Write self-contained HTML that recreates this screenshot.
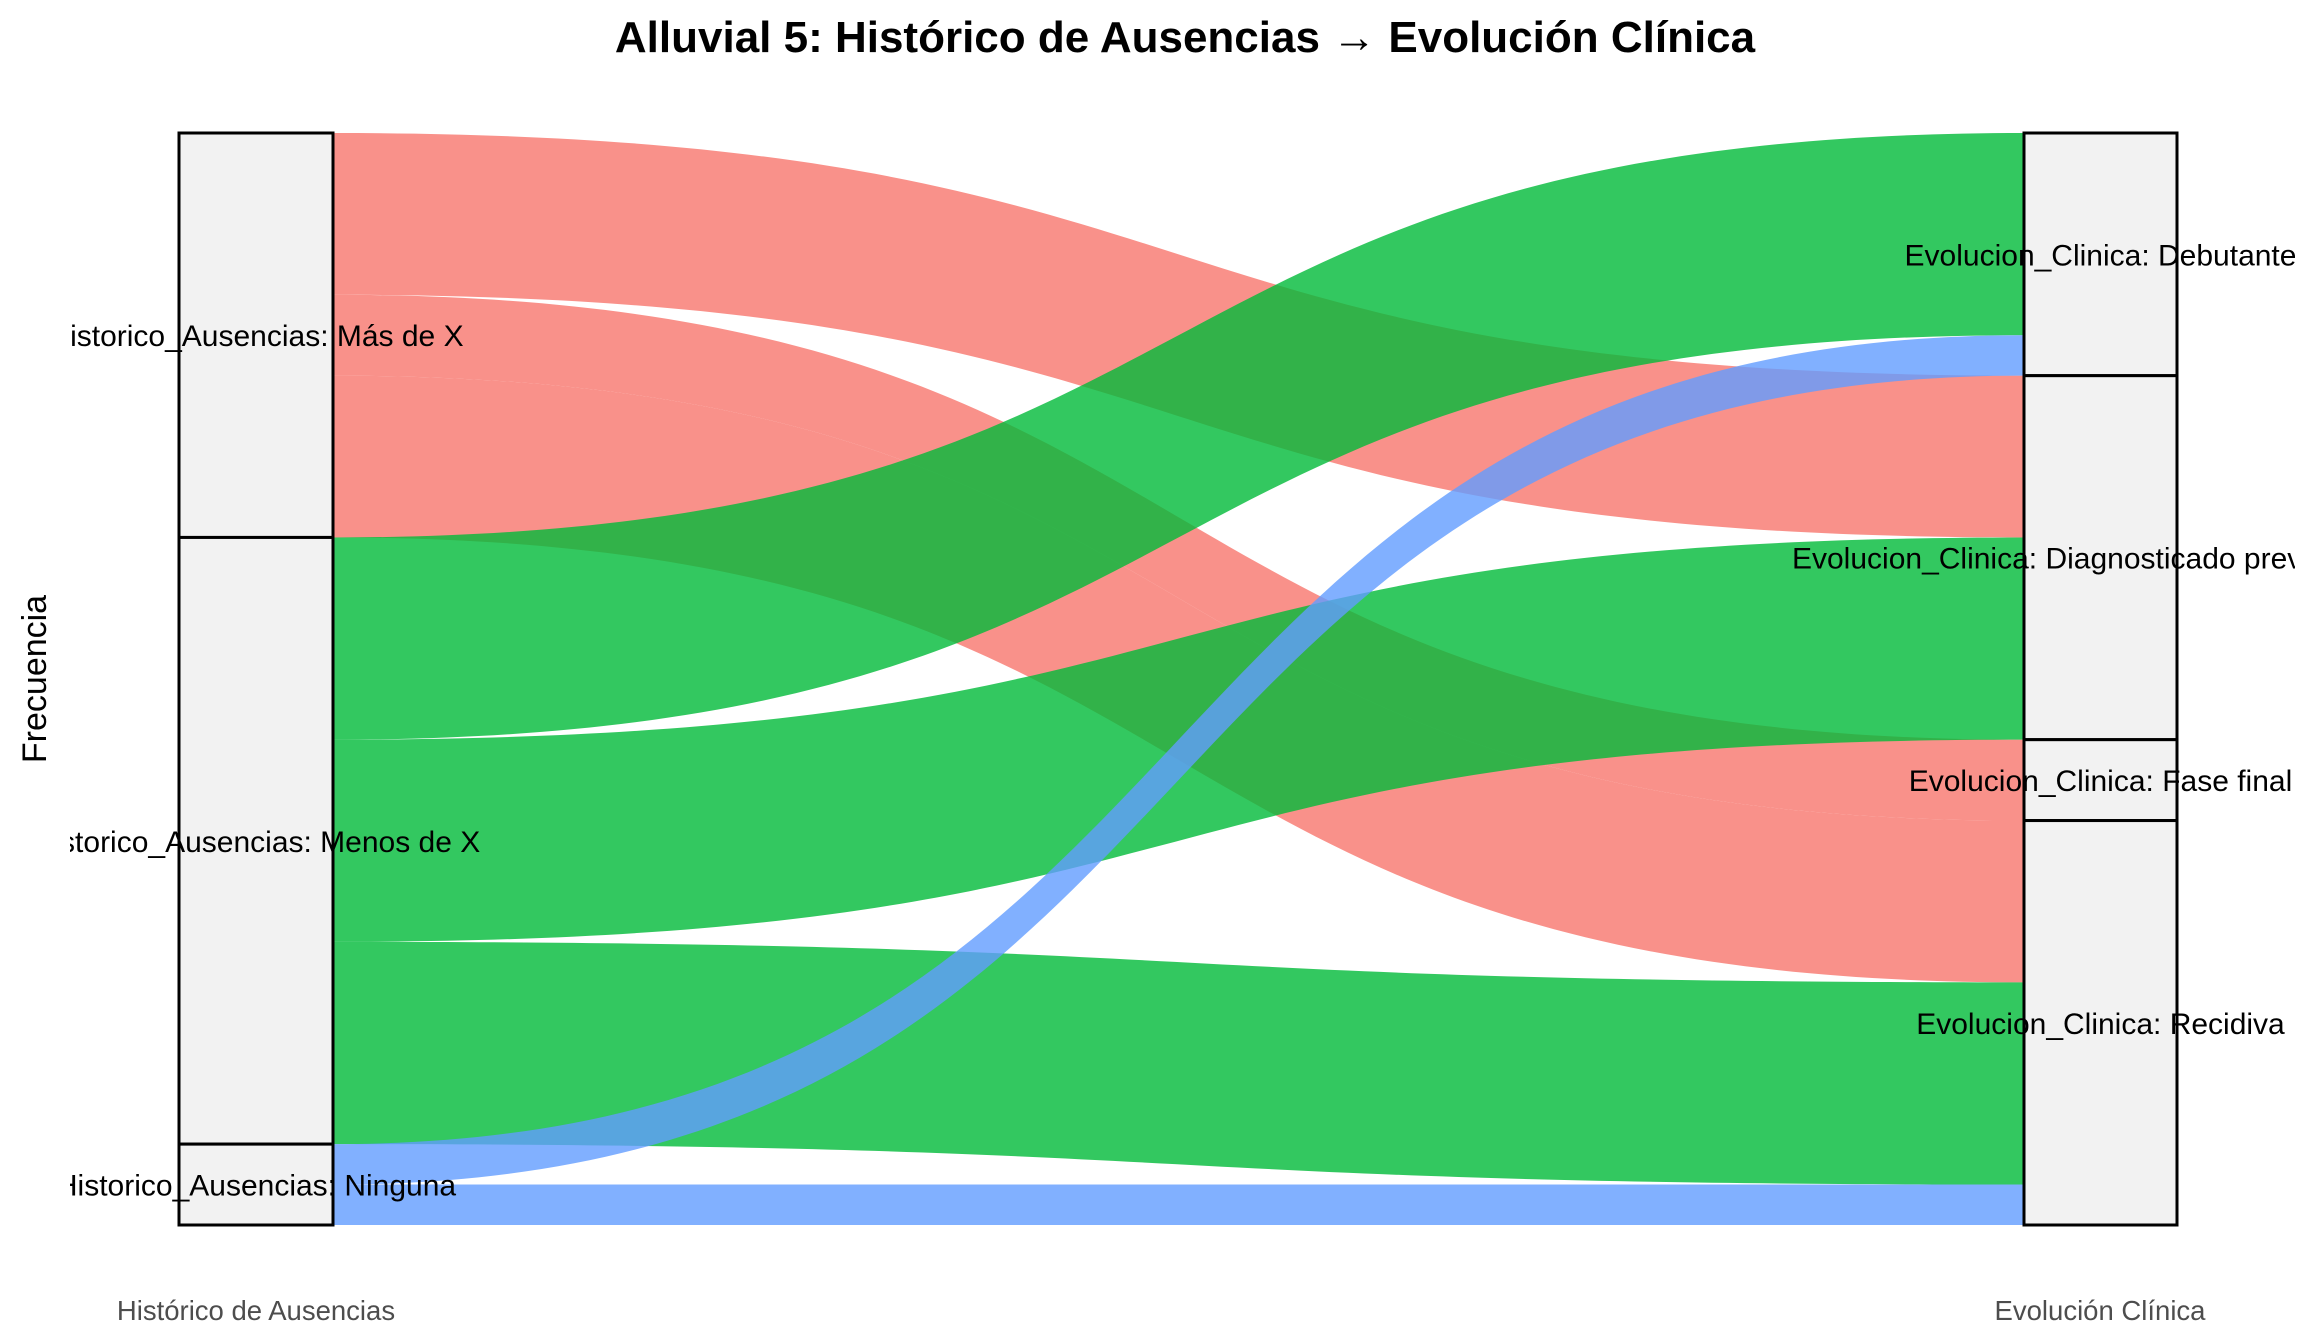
<!DOCTYPE html>
<html><head><meta charset="utf-8"><style>
html,body{margin:0;padding:0;background:#fff;}
svg{display:block;font-family:"Liberation Sans",Arial,sans-serif;}
</style></head><body>
<svg id="chart" width="2304" height="1344" viewBox="0 0 2304 1344" xmlns="http://www.w3.org/2000/svg">
<defs><clipPath id="panelclip"><rect x="70" y="0" width="2225" height="1344"/></clipPath></defs>
<text x="1185" y="52" text-anchor="middle" font-size="44" font-weight="bold" fill="#000">Alluvial 5: Histórico de Ausencias → Evolución Clínica</text>
<text transform="translate(46,679) rotate(-90)" text-anchor="middle" font-size="34" fill="#000">Frecuencia</text>
<text x="256" y="1320" text-anchor="middle" font-size="27.5" fill="#4D4D4D">Histórico de Ausencias</text>
<text x="2100" y="1320" text-anchor="middle" font-size="27.5" fill="#4D4D4D">Evolución Clínica</text>
<g id="flows"></g>
<g id="strata"></g>
<g id="labels" clip-path="url(#panelclip)"></g>
</svg>
<script>
const leftCats = ["Más de X","Menos de X","Ninguna"];
const rightCats = ["Debutante","Diagnosticado previamente","Fase final","Recidiva"];
const flowFrom = ["Más de X","Más de X","Más de X","Menos de X","Menos de X","Menos de X","Ninguna","Ninguna"];
const flowTo = ["Diagnosticado previamente","Fase final","Recidiva","Debutante","Diagnosticado previamente","Recidiva","Debutante","Recidiva"];
const flowValue = [4,2,4,5,5,5,1,1];

const colors = {"Más de X":"#F8766D","Menos de X":"#00BA38","Ninguna":"#619CFF"};
const NS="http://www.w3.org/2000/svg";
const top0=133, bot0=1225, lx0=179, lx1=333, rx0=2024, rx1=2177;
const total = flowValue.reduce((a,b)=>a+b,0);
const y = v => top0 + v*(bot0-top0)/total;

function sumBy(arr,cat){let s=0;for(let i=0;i<flowValue.length;i++) if(arr[i]===cat) s+=flowValue[i];return s;}
const lStart={},rStart={};
let acc=0; leftCats.forEach(c=>{lStart[c]=acc;acc+=sumBy(flowFrom,c);});
acc=0; rightCats.forEach(c=>{rStart[c]=acc;acc+=sumBy(flowTo,c);});
const idx=flowValue.map((_,i)=>i);
const lOff={},rOff={};
leftCats.forEach(c=>lOff[c]=lStart[c]); rightCats.forEach(c=>rOff[c]=rStart[c]);
const lPos={},rPos={};
idx.slice().sort((a,b)=>leftCats.indexOf(flowFrom[a])-leftCats.indexOf(flowFrom[b])||rightCats.indexOf(flowTo[a])-rightCats.indexOf(flowTo[b]))
 .forEach(i=>{lPos[i]=lOff[flowFrom[i]];lOff[flowFrom[i]]+=flowValue[i];});
idx.slice().sort((a,b)=>rightCats.indexOf(flowTo[a])-rightCats.indexOf(flowTo[b])||leftCats.indexOf(flowFrom[a])-leftCats.indexOf(flowFrom[b]))
 .forEach(i=>{rPos[i]=rOff[flowTo[i]];rOff[flowTo[i]]+=flowValue[i];});

const fg=document.getElementById('flows');
const span=rx0-lx1;
const c1=lx1+span*0.55, c2=rx0-span*0.55;
const order=idx.slice().sort((a,b)=>leftCats.indexOf(flowFrom[a])-leftCats.indexOf(flowFrom[b]));
order.forEach(i=>{
  const a0=y(lPos[i]),a1=y(lPos[i]+flowValue[i]),b0=y(rPos[i]),b1=y(rPos[i]+flowValue[i]);
  const p=document.createElementNS(NS,'path');
  p.setAttribute('d',`M${lx1},${a0} C${c1},${a0} ${c2},${b0} ${rx0},${b0} L${rx0},${b1} C${c2},${b1} ${c1},${a1} ${lx1},${a1} Z`);
  p.setAttribute('fill',colors[flowFrom[i]]);
  p.setAttribute('fill-opacity','0.8');
  
  
  fg.appendChild(p);
});

const sg=document.getElementById('strata');
const lg=document.getElementById('labels');
function stratum(x0,x1,start,val,side){
  const r=document.createElementNS(NS,'rect');
  r.setAttribute('x',x0);r.setAttribute('y',y(start));r.setAttribute('width',x1-x0);r.setAttribute('height',y(start+val)-y(start));
  r.setAttribute('fill','#F2F2F2');r.setAttribute('stroke','#000');r.setAttribute('stroke-width','3');
  
  
  sg.appendChild(r);
}
function label(x,start,val,text,side){
  const t=document.createElementNS(NS,'text');
  t.setAttribute('x',x);t.setAttribute('y',(y(start)+y(start+val))/2+11);
  t.setAttribute('text-anchor','middle');t.setAttribute('font-size','30');t.setAttribute('fill','#000');
  
  
  t.textContent=text;
  lg.appendChild(t);
}
leftCats.forEach(c=>stratum(lx0,lx1,lStart[c],sumBy(flowFrom,c),'left'));
rightCats.forEach(c=>stratum(rx0,rx1,rStart[c],sumBy(flowTo,c),'right'));
leftCats.forEach(c=>label((lx0+lx1)/2,lStart[c],sumBy(flowFrom,c),'Historico_Ausencias: '+c,'left'));
rightCats.forEach(c=>label((rx0+rx1)/2,rStart[c],sumBy(flowTo,c),'Evolucion_Clinica: '+c,'right'));
</script>
</body></html>
